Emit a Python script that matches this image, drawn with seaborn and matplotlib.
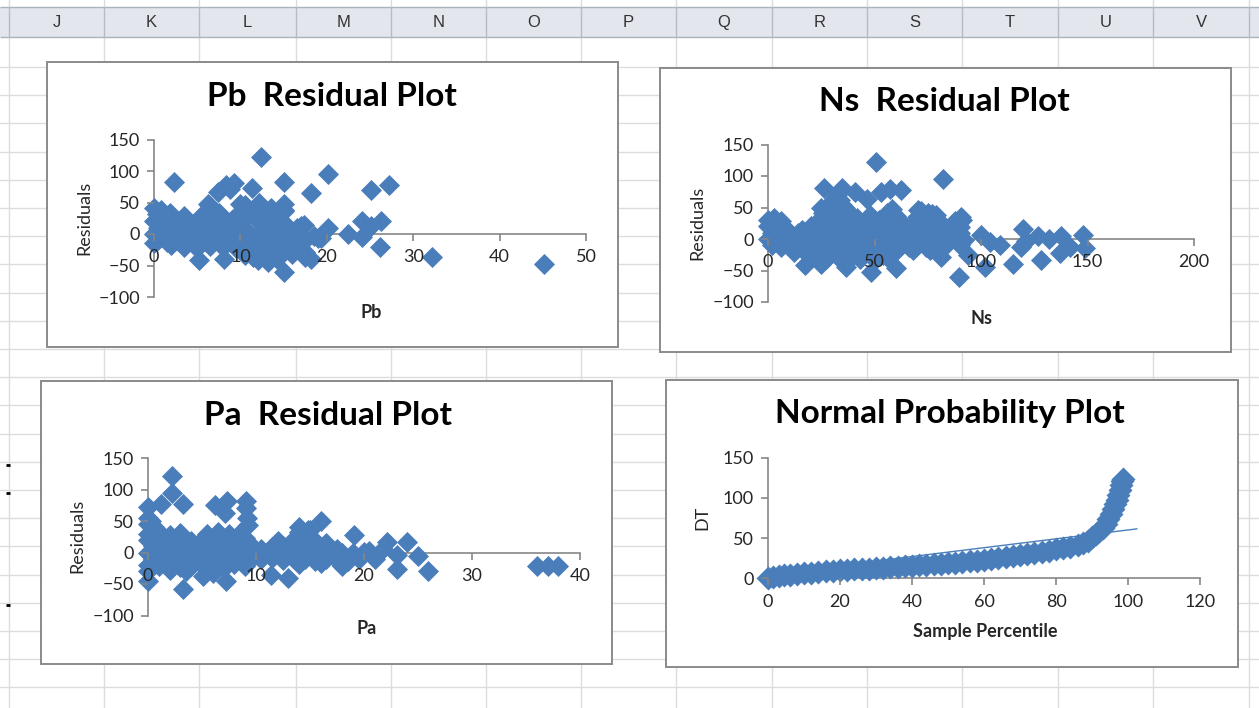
import numpy as np
import pandas as pd
import seaborn as sns
import matplotlib.pyplot as plt
from matplotlib.patches import Rectangle

# ---- data (estimates) ----
# Pb residuals
pb_x = [0, 0.8, 6.5, 10.5,
        0.3, 1.8, 3.5, 5.5, 7.5, 9.5, 11, 12.8, 15,
        0, 1, 2, 3, 4, 5, 6, 7, 8, 9, 10, 12, 14, 15, 17,
        0.5, 1.5, 2.5, 3.5, 4.5, 5.5, 6.5, 7.5, 8.5, 9.5, 10.5, 13, 15.5, 16.5,
        0, 1, 2, 3, 4, 5, 6, 7, 8, 9, 10, 11, 12, 13, 14, 15, 16, 17, 18.5,
        0.5, 1.5, 2.5, 3.5, 4.5, 5.5, 6.5, 7.5, 8.5, 9.5, 10.5, 11.5, 12.5, 13.5, 14.5, 15.5, 16.5, 17.5, 19,
        0, 2, 3.5, 5, 6.5, 8, 9.5, 11, 12, 13, 14, 15, 16.5, 17.5,
        10.5, 11.5, 12.5, 13.5, 14.5, 16, 17.5,
        12, 13.2, 14.2,
        12.4, 2.3, 20.1, 15.1, 27.2, 25.1, 18.2, 11.4, 9.3, 8.3, 7.4, 8.8, 6.2, 10, 12.2, 15.1, 15.1,
        13.5, 20.1, 22.4, 24.1, 24.1, 26.3, 25.1, 26.1, 32.2, 45.1, 15.1, 18.2, 5.2, 8.1, 17.4, 19.3]
pb_res = [42, 38, 44, 46,
          31, 33, 28, 30, 33, 29, 35, 30, 36,
          20, 22, 19, 21, 18, 20, 22, 19, 21, 23, 18, 20, 22, 17, 12,
          10, 8, 11, 9, 10, 8, 11, 9, 10, 12, 6, 8, 5, 10,
          0, -1, 1, 0, -2, 1, 0, -1, 2, 0, -1, 1, -2, 0, 1, -1, 0, -2, -3,
          -10, -12, -9, -11, -10, -13, -9, -11, -12, -10, -11, -13, -9, -12, -10, -11, -13, -10, -7,
          -15, -18, -20, -22, -19, -21, -23, -24, -26, -22, -25, -27, -24, -28,
          -33, -36, -34, -38, -35, -31, -36,
          -42, -44, -40,
          123, 82, 95, 82, 77, 70, 65, 73, 81, 78, 66, 72, 48, 48, 50, 48, 38,
          41, 9, 0, 21, -5, 21, 12, -20, -37, -48, -60, -39, -41, -39, 14, -7]

# Ns residuals
ns_x = [26, 30, 34, 37, 48, 56, 60, 72, 77,
        28, 33, 36, 58,
        31, 34, 32.5,
        0, 3, 6, 24, 29, 33, 38, 42, 46, 52, 55, 62, 70, 75, 80, 88, 91,
        0, 4, 8, 16, 20, 24, 28, 32, 36, 40, 44, 48, 52, 56, 60, 64, 68, 72, 78, 82, 86, 90,
        2, 6, 10, 14, 18, 22, 26, 30, 34, 38, 42, 46, 50, 54, 58, 62, 66, 70, 74, 78, 82, 86, 90,
        0, 4, 8, 12, 16, 20, 24, 28, 32, 36, 40, 44, 48, 52, 56, 60, 64, 68, 72, 76, 80, 84, 88, 92,
        2, 6, 10, 14, 18, 22, 26, 30, 34, 38, 42, 46, 50, 54, 58, 62, 66, 70, 74, 78, 84, 90,
        12, 18, 24, 30, 36, 40, 44, 48, 54, 60, 68, 76,
        20, 27, 33, 38, 43, 50, 56,
        50.9, 82.2, 26.3, 34.7, 40.7, 46.6, 52.9, 57.1, 62.6, 31.3, 25, 34.7, 70.4, 75.1, 79, 90.8,
        89.2, 100, 108.8, 119.7, 118.9, 126.8, 137.7, 147.9, 148.7, 137, 128.3, 115, 101.7, 89.5,
        60.3, 48.5, 36.8, 17.2, 25, 81.4, 93.9, 141.6, 132, 104, 121]
ns_res = [42, 45, 40, 44, 38, 41, 36, 44, 40,
          52, 55, 50, 47,
          64, 62, 70,
          30, 33, 28, 30, 32, 29, 31, 33, 27, 30, 32, 28, 35, 33, 30, 28, 30,
          20, 22, 18, 15, 20, 22, 19, 21, 23, 20, 18, 22, 19, 21, 20, 18, 22, 19, 20, 18, 21, 19,
          10, 8, 11, 9, 10, 12, 8, 11, 9, 10, 12, 8, 11, 9, 10, 12, 8, 11, 9, 10, 8, 11, 9,
          0, -1, 1, 0, -2, 1, 0, -1, 2, 0, -1, 1, -2, 0, 1, -1, 0, 2, -1, 0, 1, -2, 0, -1,
          -10, -12, -9, -11, -10, -13, -9, -11, -12, -10, -11, -13, -9, -12, -10, -11, -13, -10, -12, -9, -8, -10,
          -20, -22, -19, -23, -21, -24, -20, -22, -25, -19, -18, -17,
          -30, -32, -28, -34, -31, -33, -29,
          122.5, 94.6, 81, 81, 75, 64, 74, 79, 78, 64, 49, 54, 46, 42, 38, 35,
          22, 6, -10, 16, -12, 4, 4, 6, -15, -23, -33, -39, -44, -60,
          -46, -52, -44, -41, -39, -28, -25, -12, 0, -5, -3]

# Pa residuals
pa_x = [0, 0.6,
        0, 1, 2, 3, 5.5, 6.5, 7.5, 8.5, 14, 15,
        0, 1, 2, 3, 4, 5, 6, 7, 8, 9, 12, 13.5, 14.5, 15.5, 16.5,
        0.5, 1.5, 2.5, 3.5, 4.5, 5.5, 6.5, 7.5, 8.5, 9.5, 10.5, 11.5, 12.5, 13.5, 14.5, 15.5, 16.5, 17.5,
        0, 1, 2, 3, 4, 5, 6, 7, 8, 9, 10, 11, 12, 13, 14, 15, 16, 17, 18, 19, 20,
        0.5, 1.5, 2.5, 3.5, 4.5, 5.5, 6.5, 7.5, 8.5, 9.5, 10.5, 11.5, 12.5, 13.5, 14.5, 15.5, 16.5, 17.5, 18.5, 19.5,
        0, 1, 2, 3, 4, 5, 6, 7, 8, 9, 14, 16, 18,
        0, 2, 6, 3.5,
        2.25, 2.25, 3.2, 1.2, 0, 6.2, 7.3, 7.1, 9.1, 9.1, 9.2, 9.3, 16, 14, 14.8, 19.1, 22.1, 24, 23.1,
        25, 23.1, 25.9, 36, 37, 38, 3.2, 7.2, 13, 11.4, 5.1, 0, 18, 20.5, 21, 21.8, 0, 0.3]
pa_res = [45, 40,
          30, 32, 28, 31, 30, 33, 29, 31, 33, 36,
          20, 22, 19, 21, 18, 20, 22, 19, 21, 23, 18, 22, 20, 19, 15,
          10, 8, 11, 9, 10, 8, 11, 9, 10, 12, 6, 8, 10, 7, 9, 11, 8, 6,
          0, -1, 1, 0, -2, 1, 0, -1, 2, 0, -1, 1, -2, 0, 1, -1, 0, 2, -1, 0, 1,
          -10, -12, -9, -11, -10, -13, -9, -11, -12, -10, -11, -9, -12, -10, -11, -13, -10, -12, -14, -11,
          -20, -22, -19, -23, -21, -20, -22, -24, -19, -21, -18, -17, -20,
          -30, -28, -32, -29,
          121, 94, 77, 77, 73, 76, 81, 63, 82, 70, 55, 44, 50, 41, 36, 28, 16, 16, -4,
          -6, -26, -29, -22, -22, -22, -58, -46, -41, -35, -38, -46, -22, 3, -10, 5, 55, 50]

# normal probability plot (sample percentile vs sorted DT)
pct = [0.1, 1.5, 3, 4.5, 6, 8, 10, 12, 14, 16, 18, 20, 22, 24, 26, 28, 30, 32, 34, 36, 38, 40,
       42, 44, 46, 48, 50, 52, 54, 56, 58, 60, 62, 64, 66, 68, 70, 72, 74, 76, 78, 80, 82, 84,
       86, 87.5, 89, 90, 91, 92, 93, 93.8, 94.5, 95.2, 95.8, 96.4, 96.9, 97.3, 97.7, 98, 98.3, 98.5]
dt = [0.5, 1.5, 2.5, 3.5, 4, 5, 6, 7, 7.5, 8.5, 9, 10, 10.5, 11, 11.5, 12, 12.5, 13, 13.5, 14, 15, 15.5,
      16, 17, 17.5, 18, 18.5, 19.5, 20, 21, 22, 23, 24, 25.5, 26.5, 28, 29, 30.5, 32, 33, 34.5, 36, 37.5, 39.5,
      42, 44.5, 47, 51, 55, 59, 63, 68, 74, 80, 86, 92, 98, 104, 110, 116, 121, 123]
trend_x = [0, 102.5]
trend_dt = [5, 61.5]

col_letters = ['J', 'K', 'L', 'M', 'N', 'O', 'P', 'Q', 'R', 'S', 'T', 'U', 'V']

# ---- style ----
BLUE = '#4A7EBB'
AXC = '#868686'
MS = 115  # diamond marker area
sns.set_theme(style='white')
plt.rcParams['font.family'] = ['Lato', 'DejaVu Sans']

W, H = 1259, 708
fig = plt.figure(figsize=(W / 100, H / 100), dpi=100)

# spreadsheet background
bg = fig.add_axes([0, 0, 1, 1])
bg.set_xlim(0, W); bg.set_ylim(H, 0); bg.axis('off')
col_edges = [9, 104, 199, 296, 391, 486, 581, 676, 772, 867, 962, 1058, 1153, 1249]
for y in np.arange(38.7 + 28.2, H, 28.2):
    bg.axhline(y, color='#dcdcdc', lw=1, zorder=1)
for x in col_edges:
    bg.axvline(x, color='#dcdcdc', lw=1, zorder=1)
bg.add_patch(Rectangle((0, 7), W, 30, fc='#e3e7ed', ec='none', zorder=2))
bg.hlines([7, 37], 0, W, color='#a9b3bf', lw=1, zorder=3)
bg.vlines(col_edges, 7, 37, color='#b4bcc6', lw=1, zorder=3)
bg.hlines([465, 493, 605], 6, 10, color='black', lw=2, zorder=3)
for i, lt in enumerate(col_letters):
    bg.text((col_edges[i] + col_edges[i + 1]) / 2, 22.5, lt, ha='center', va='center',
            fontsize=12, color='#333333', family='Liberation Sans', zorder=4)
# chart frames
for x0, y0, x1, y1 in [(47, 62, 618, 347), (660, 68, 1231, 352), (41, 381, 612, 664), (666, 380, 1238, 667)]:
    bg.add_patch(Rectangle((x0, y0), x1 - x0, y1 - y0, fc='white', ec='#8a8a8a', lw=1.4, zorder=5))


def make_ax(x0, x1, ytop, ybot):
    ax = fig.add_axes([x0 / W, 1 - ybot / H, (x1 - x0) / W, (ybot - ytop) / H])
    ax.set_facecolor('none')
    return ax


def put_labels(ax, box, title, xlab, ylab, tpos, xpos, ypos):
    x0, x1, ytop, ybot = box
    fx = lambda p: (p - x0) / (x1 - x0)
    fy = lambda p: (ybot - p) / (ybot - ytop)
    ax.set_title(title, x=fx(tpos[0]), y=fy(tpos[1]), pad=0, va='center', ha='center',
                 fontsize=24, fontweight='bold', color='black')
    ax.set_xlabel(xlab, fontsize=13, fontweight='bold', color='#262626', va='center')
    ax.set_ylabel(ylab, fontsize=13, color='#262626', va='center')
    ax.xaxis.set_label_coords(fx(xpos[0]), fy(xpos[1]))
    ax.yaxis.set_label_coords(fx(ypos[0]), fy(ypos[1]))


def style_axes(ax):
    ax.spines[['top', 'right']].set_visible(False)
    for s in ['left', 'bottom']:
        ax.spines[s].set_color(AXC)
        ax.spines[s].set_linewidth(1.2)
    ax.tick_params(axis='both', bottom=True, left=True, direction='out', length=5, width=1.2,
                   color=AXC, labelsize=13, labelcolor='#262626')
    ax.tick_params(axis='x', pad=6)
    ax.tick_params(axis='y', pad=5)
    ax.xaxis.set_zorder(4); ax.yaxis.set_zorder(4)


def residual_chart(box, xs, ys, xmax, xstep, title, xlab, tpos, xpos, ypos):
    ax = make_ax(*box)
    df = pd.DataFrame({'x': xs, 'res': ys})
    sns.scatterplot(data=df, x='x', y='res', marker='D', s=MS, color=BLUE, linewidth=0,
                    ax=ax, clip_on=False, zorder=3)
    ax.set_xlim(0, xmax); ax.set_ylim(-100, 150)
    ax.set_xticks(np.arange(0, xmax + 1, xstep))
    ax.set_yticks([-100, -50, 0, 50, 100, 150])
    style_axes(ax)
    ax.spines['bottom'].set_position(('data', 0))
    put_labels(ax, box, title, xlab, 'Residuals', tpos, xpos, ypos)
    return ax


residual_chart((154, 586, 139.5, 297), pb_x, pb_res, 50, 10, 'Pb  Residual Plot', 'Pb',
               (332, 97), (371, 313), (84, 218))
residual_chart((768, 1194, 144.5, 302), ns_x, ns_res, 200, 50, 'Ns  Residual Plot', 'Ns',
               (944, 101.5), (981, 319), (697, 223))
residual_chart((148, 580, 458, 615.5), pa_x, pa_res, 40, 10, 'Pa  Residual Plot', 'Pa',
               (328, 415), (367, 628), (77, 536))

# normal probability plot
nbox = (768, 1200, 457.7, 578.3)
ax = make_ax(*nbox)
sns.scatterplot(x=pct, y=dt, marker='D', s=150, color=BLUE, linewidth=0, ax=ax, clip_on=False, zorder=3)
sns.lineplot(x=trend_x, y=trend_dt, color=BLUE, lw=1, ax=ax, zorder=3.5)
ax.set_xlim(0, 120); ax.set_ylim(0, 150)
ax.set_xticks(np.arange(0, 121, 20)); ax.set_yticks([0, 50, 100, 150])
style_axes(ax)
put_labels(ax, nbox, 'Normal Probability Plot', 'Sample Percentile', 'DT',
           (950, 414), (985, 631), (702, 518))

fig.savefig('out.png', dpi=100)
